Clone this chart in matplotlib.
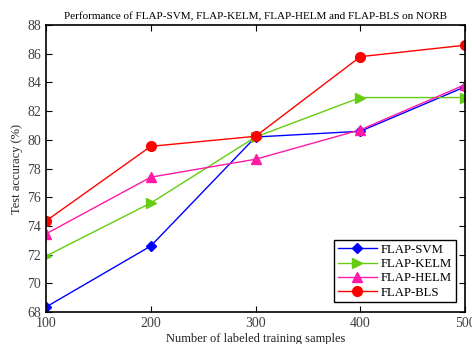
import matplotlib
matplotlib.use("Agg")
import matplotlib.pyplot as plt

# 标注样本数量
samples = [100, 200, 300, 400, 500]

# 各方法的测试精度 (%)
acc_svm = [68.35, 72.6, 80.2, 80.6, 83.7]
acc_kelm = [71.9, 75.6, 80.2, 82.95, 82.95]
acc_helm = [73.45, 77.4, 78.65, 80.7, 83.85]
acc_bls = [74.35, 79.55, 80.25, 85.8, 86.6]

plt.rcParams["font.family"] = ["Liberation Serif", "DejaVu Serif"]

fig = plt.figure(figsize=(4.72, 3.44), dpi=100)
ax = fig.add_axes([0.0975, 0.093, 0.888, 0.834])

ax.plot(samples, acc_svm, color="#0000ff", marker="D", markersize=5.5, lw=1, label="FLAP-SVM")
ax.plot(samples, acc_kelm, color="#66cc11", marker=">", markersize=7.5, lw=1, label="FLAP-KELM")
ax.plot(samples, acc_helm, color="#ff1aa8", marker="^", markersize=7.5, lw=1, label="FLAP-HELM")
ax.plot(samples, acc_bls, color="#ff0000", marker="o", markersize=7, lw=1, label="FLAP-BLS")

ax.set_xlim(100, 500)
ax.set_ylim(68, 88)
ax.set_xticks(samples)
ax.set_yticks(range(68, 89, 2))
ax.tick_params(direction="in", top=True, right=True, labelsize=10, length=4)
ax.tick_params(labelcolor="#404040")
for s in ax.spines.values():
    s.set_linewidth(1.2)

ax.set_title("Performance of FLAP-SVM, FLAP-KELM, FLAP-HELM and FLAP-BLS on NORB", fontsize=8, pad=4)
ax.set_xlabel("Number of labeled training samples", fontsize=9, labelpad=2, color="#202020")
ax.set_ylabel("Test accuracy (%)", fontsize=9, labelpad=3, color="#202020")

leg = ax.legend(loc="lower right", fontsize=9.2, fancybox=False, framealpha=1,
                edgecolor="black", borderpad=0.3, labelspacing=0.18,
                handlelength=3.0, handletextpad=0.3, borderaxespad=0.75)
leg.get_frame().set_linewidth(1)

fig.savefig("out.png", dpi=100)
